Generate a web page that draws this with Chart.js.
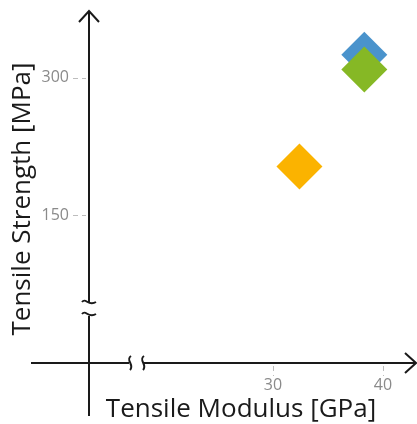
<!DOCTYPE html>
<html>
<head>
<meta charset="utf-8">
<script src="https://cdn.jsdelivr.net/npm/chart.js@4"></script>
<style>
  html, body { margin: 0; padding: 0; background: #fff; }
  #myChart { display: block; }
</style>
</head>
<body>
<canvas id="myChart" width="417" height="424"></canvas>
<script>
'use strict';
// values
const modulus = [32.4, 38.3, 38.3];
const strength = [203, 325, 309];
const pointColors = ['#fbb300', '#4a93cc', '#86b825'];
const xTicks = [30, 40];
const yTicks = [150, 300];
const xTitle = 'Tensile Modulus [GPa]';
const yTitle = 'Tensile Strength [MPa]';

const ink = '#1a1a1a';

function squiggleH(ctx, x, y) {
  ctx.beginPath();
  ctx.moveTo(x - 7, y - 1);
  ctx.bezierCurveTo(x - 3, y - 6, x - 1, y + 4, x + 7, y - 1);
  ctx.stroke();
}
function squiggleV(ctx, x, y) {
  ctx.beginPath();
  ctx.moveTo(x + 1, y - 7);
  ctx.bezierCurveTo(x - 5, y - 3, x + 5, y + 2, x, y + 7);
  ctx.stroke();
}

// axis lines, arrows, breaks, tick dashes and titles
const axesArt = {
  id: 'axesArt',
  afterDraw(chart) {
    const ctx = chart.ctx;
    const area = chart.chartArea;
    const ax = area.left;
    const ay = area.bottom;
    ctx.save();
    ctx.strokeStyle = ink;
    ctx.lineWidth = 2;
    ctx.lineCap = 'butt';

    // y axis
    ctx.beginPath();
    ctx.moveTo(ax, 11);
    ctx.lineTo(ax, 302);
    ctx.moveTo(ax, 316);
    ctx.lineTo(ax, 416);
    ctx.stroke();
    squiggleH(ctx, ax, 303);
    squiggleH(ctx, ax, 315);
    ctx.beginPath();
    ctx.moveTo(ax - 10, 22);
    ctx.lineTo(ax, 11);
    ctx.lineTo(ax + 10, 22);
    ctx.stroke();

    // x axis
    ctx.beginPath();
    ctx.moveTo(31, ay);
    ctx.lineTo(129, ay);
    ctx.moveTo(143, ay);
    ctx.lineTo(416, ay);
    ctx.stroke();
    squiggleV(ctx, 130, ay);
    squiggleV(ctx, 143, ay);
    ctx.beginPath();
    ctx.moveTo(405, ay - 10);
    ctx.lineTo(416, ay);
    ctx.lineTo(405, ay + 10);
    ctx.stroke();

    // tick dashes
    ctx.strokeStyle = '#bdbdbd';
    ctx.lineWidth = 1;
    ctx.setLineDash([5, 4]);
    chart.scales.x.ticks.forEach(t => {
      const px = Math.round(chart.scales.x.getPixelForValue(t.value)) + 0.5;
      ctx.beginPath();
      ctx.moveTo(px, ay + 3);
      ctx.lineTo(px, ay + 13);
      ctx.stroke();
    });
    chart.scales.y.ticks.forEach(t => {
      const py = Math.round(chart.scales.y.getPixelForValue(t.value)) + 0.5;
      ctx.beginPath();
      ctx.moveTo(ax - 16, py);
      ctx.lineTo(ax - 3, py);
      ctx.stroke();
    });
    ctx.setLineDash([]);

    // titles
    ctx.fillStyle = ink;
    ctx.font = '26px "Open Sans"';
    ctx.textAlign = 'center';
    ctx.textBaseline = 'alphabetic';
    ctx.fillText(xTitle, 241, 417);
    ctx.translate(30, 199);
    ctx.rotate(-Math.PI / 2);
    ctx.fillText(yTitle, 0, 0);
    ctx.restore();
  }
};

const ctx = document.getElementById('myChart').getContext('2d');
const chart = new Chart(ctx, {
  type: 'scatter',
  data: {
    datasets: [{
      data: modulus.map((m, i) => ({ x: m, y: strength[i] })),
      backgroundColor: pointColors,
      borderWidth: 0,
      pointStyle: 'rectRot',
      pointRadius: 23,
      pointHoverRadius: 23,
      clip: false
    }]
  },
  options: {
    responsive: false,
    animation: false,
    devicePixelRatio: 1,
    layout: { padding: 0, autoPadding: false },
    plugins: {
      legend: { display: false },
      tooltip: { enabled: false }
    },
    scales: {
      x: {
        type: 'linear',
        min: 13.27,
        max: 43.09,
        afterBuildTicks: scale => { scale.ticks = xTicks.map(v => ({ value: v })); },
        afterFit: scale => {
          scale.height = 61;
          scale.paddingLeft = 0;
          scale.paddingRight = 0;
        },
        grid: { display: false },
        border: { display: false },
        ticks: {
          padding: 5,
          color: '#8a8a8a',
          font: { family: '"Open Sans"', size: 16 }
        }
      },
      y: {
        type: 'linear',
        min: -11.7,
        max: 384.9,
        afterBuildTicks: scale => { scale.ticks = yTicks.map(v => ({ value: v })); },
        afterFit: scale => {
          scale.width = 89;
          scale.paddingTop = 0;
          scale.paddingBottom = 0;
        },
        grid: { display: false },
        border: { display: false },
        ticks: {
          padding: 12,
          color: '#8a8a8a',
          font: { family: '"Open Sans"', size: 16 }
        }
      }
    }
  },
  plugins: [axesArt]
});
</script>
</body>
</html>
